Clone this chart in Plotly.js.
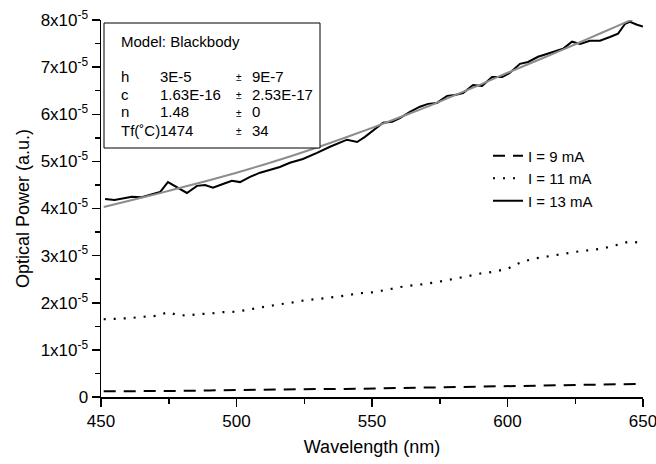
<!DOCTYPE html>
<html>
<head>
<meta charset="utf-8">
<script src="https://cdn.plot.ly/plotly-3.0.1.min.js"></script>
<style>html,body{margin:0;padding:0;background:#fff;}#chart{width:656px;height:464px;}</style>
</head>
<body>
<div id="chart"></div>
<script>
// ---- data ----
const wl9 = [451, 460, 470, 480, 490, 500, 510, 520, 530, 540, 550, 560, 570, 580, 590, 600, 605, 610, 620, 630, 640, 650];
const p9  = [0.12, 0.12, 0.13, 0.13, 0.14, 0.15, 0.15, 0.16, 0.17, 0.17, 0.18, 0.19, 0.19, 0.20, 0.21, 0.22, 0.24, 0.24, 0.25, 0.26, 0.27, 0.28];

const wl11 = [451, 455, 460, 465, 470, 475, 478, 482, 486, 490, 495, 500, 505, 510, 515, 520, 525, 530, 535, 540, 545, 550, 555, 560, 565, 570, 575, 580, 585, 590, 595, 600, 605, 610, 615, 620, 625, 630, 635, 640, 645, 650];
const p11  = [1.65, 1.66, 1.67, 1.70, 1.72, 1.80, 1.74, 1.73, 1.76, 1.77, 1.80, 1.81, 1.86, 1.92, 1.96, 2.00, 2.05, 2.08, 2.11, 2.15, 2.20, 2.22, 2.27, 2.33, 2.37, 2.40, 2.45, 2.50, 2.56, 2.62, 2.66, 2.72, 2.86, 2.94, 2.98, 3.03, 3.08, 3.11, 3.15, 3.22, 3.30, 3.27];

const wl13 = [451.5, 455, 461.4, 465, 471.8, 474.7, 481.7, 485.4, 488.4, 491.3, 495, 498.3, 501.3, 505, 508.7, 512.4, 516, 519.7, 524.5, 529.7, 534.5, 540.8, 544.5, 547.4, 554.1, 557.4, 560.3, 564, 567.7, 570.7, 574, 577.7, 580.6, 583.6, 587.3, 590.6, 594.3, 598, 600.9, 604.6, 607.6, 611.3, 615.7, 620.5, 623.8, 626.8, 630.4, 634.1, 637.8, 640.8, 643.4, 645.2, 647.8, 650];
const p13  = [4.20, 4.18, 4.25, 4.24, 4.35, 4.56, 4.33, 4.48, 4.50, 4.44, 4.52, 4.59, 4.56, 4.67, 4.76, 4.82, 4.88, 4.97, 5.05, 5.18, 5.31, 5.46, 5.41, 5.52, 5.82, 5.84, 5.92, 6.05, 6.16, 6.22, 6.24, 6.39, 6.41, 6.45, 6.62, 6.60, 6.79, 6.79, 6.88, 7.07, 7.11, 7.22, 7.30, 7.39, 7.54, 7.49, 7.56, 7.56, 7.64, 7.71, 7.92, 7.96, 7.90, 7.86];

const wlFit = [451, 460, 470, 480, 490, 500, 510, 520, 530, 540, 550, 560, 570, 580, 590, 600, 610, 620, 630, 640, 650];
const pFit  = [4.03, 4.16, 4.30, 4.45, 4.60, 4.76, 4.93, 5.11, 5.30, 5.50, 5.71, 5.93, 6.15, 6.39, 6.63, 6.88, 7.12, 7.36, 7.61, 7.86, 8.11];

const seriesNames = ['I = 9 mA', 'I = 11 mA', 'I = 13 mA'];
const scale = 1e-5;

const yTickVals = [0, 1, 2, 3, 4, 5, 6, 7, 8];
const yTickText = ['0', '1x10<sup>-5</sup>', '2x10<sup>-5</sup>', '3x10<sup>-5</sup>', '4x10<sup>-5</sup>', '5x10<sup>-5</sup>', '6x10<sup>-5</sup>', '7x10<sup>-5</sup>', '8x10<sup>-5</sup>'];
const xTickVals = [450, 500, 550, 600, 650];

const modelTitle = 'Model: Blackbody';
const paramNames = ['h', 'c', 'n', 'Tf(˚C)'];
const paramValues = ['3E-5', '1.63E-16', '1.48', '1474'];
const paramErrors = ['9E-7', '2.53E-17', '0', '34'];

// ---- build ----
const toY = arr => arr.map(v => v * scale);
const FONT = 'Liberation Sans, Arial, Helvetica, sans-serif';

const traces = [
  {x: wl9, y: toY(p9), name: seriesNames[0], mode: 'lines', line: {color: '#000', width: 2, dash: '12px,8px'}},
  {x: wl11, y: toY(p11), name: seriesNames[1], mode: 'lines', line: {color: '#000', width: 2.2, dash: '2px,8px'}},
  {x: wl13, y: toY(p13), name: seriesNames[2], mode: 'lines', line: {color: '#000', width: 2}},
  {x: wlFit, y: toY(pFit), name: 'fit', mode: 'lines', showlegend: false, line: {color: '#8c8c8c', width: 2, shape: 'spline'}}
];

const PL = 101, PR = 643, PT = 20, PB = 397;
const px = v => (v - PL) / (PR - PL);
const py = v => (PB - v) / (PB - PT);

const TXT = 15;
const annotations = [];
annotations.push({xref: 'paper', yref: 'paper', x: px(119), y: py(42), xanchor: 'left', yanchor: 'middle', text: modelTitle, showarrow: false, font: {family: FONT, size: TXT, color: '#000'}});
const rowY = [76, 94, 112, 130];
for (let i = 0; i < paramNames.length; i++) {
  annotations.push({xref: 'paper', yref: 'paper', x: px(119), y: py(rowY[i]), xanchor: 'left', yanchor: 'middle', text: paramNames[i], showarrow: false, font: {family: FONT, size: TXT, color: '#000'}});
  annotations.push({xref: 'paper', yref: 'paper', x: px(158), y: py(rowY[i]), xanchor: 'left', yanchor: 'middle', text: paramValues[i], showarrow: false, font: {family: FONT, size: TXT, color: '#000'}});
  annotations.push({xref: 'paper', yref: 'paper', x: px(234), y: py(rowY[i]) - 0.005, xanchor: 'left', yanchor: 'middle', text: '±', showarrow: false, font: {family: FONT, size: 10, color: '#000'}});
  annotations.push({xref: 'paper', yref: 'paper', x: px(250), y: py(rowY[i]), xanchor: 'left', yanchor: 'middle', text: paramErrors[i], showarrow: false, font: {family: FONT, size: TXT, color: '#000'}});
}

const layout = {
  width: 656, height: 464,
  margin: {l: PL, r: 656 - PR, t: PT, b: 464 - PB, pad: 0},
  paper_bgcolor: '#fff', plot_bgcolor: '#fff',
  font: {family: FONT, size: 15, color: '#000'},
  showlegend: true,
  legend: {x: px(488), y: py(139.5), xanchor: 'left', yanchor: 'top', bgcolor: 'rgba(0,0,0,0)', font: {family: FONT, size: 15}, tracegroupgap: 0},
  xaxis: {
    range: [450, 650], showgrid: false, zeroline: false,
    showline: true, linecolor: '#000', linewidth: 1.5,
    ticks: 'outside', ticklen: 8, tickwidth: 1.5, tickcolor: '#000',
    tickvals: xTickVals, tickfont: {family: FONT, size: 17}, ticklabeloverflow: 'allow',
    minor: {dtick: 25, tick0: 450, ticks: 'outside', ticklen: 5, tickwidth: 1.5, tickcolor: '#000', showgrid: false},
    title: {text: 'Wavelength (nm)', font: {family: FONT, size: 18}, standoff: 10}
  },
  yaxis: {
    range: [0, 8e-5], showgrid: false, zeroline: false,
    showline: true, linecolor: '#000', linewidth: 1.5,
    ticks: 'outside', ticklen: 8, tickwidth: 1.5, tickcolor: '#000',
    tickvals: yTickVals.map(v => v * scale), ticktext: yTickText, tickfont: {family: FONT, size: 17},
    minor: {dtick: 0.5e-5, tick0: 0, ticks: 'outside', ticklen: 5, tickwidth: 1.5, tickcolor: '#000', showgrid: false},
    title: {text: 'Optical Power (a.u.)', font: {family: FONT, size: 18}, standoff: 6}
  },
  xaxis2: {
    overlaying: 'x', side: 'top', anchor: 'y', range: [450, 650],
    showgrid: false, zeroline: false, showticklabels: false,
    showline: true, linecolor: '#000', linewidth: 1.5,
    ticks: 'inside', ticklen: 6, tickwidth: 1.5, tickcolor: '#000', dtick: 25, tick0: 450
  },
  yaxis2: {
    overlaying: 'y', side: 'right', anchor: 'x', range: [0, 8e-5],
    showgrid: false, zeroline: false, showticklabels: false,
    showline: true, linecolor: '#000', linewidth: 1.5,
    ticks: 'inside', ticklen: 6, tickwidth: 1.5, tickcolor: '#000', dtick: 0.5e-5, tick0: 0
  },
  shapes: [
    {type: 'rect', xref: 'paper', yref: 'paper', x0: px(104), x1: px(320), y0: py(148), y1: py(23), line: {color: '#000', width: 1}, fillcolor: 'rgba(255,255,255,1)', layer: 'above'}
  ],
  annotations: annotations
};

Plotly.newPlot('chart', traces, layout, {displayModeBar: false, staticPlot: true});
</script>
</body>
</html>
